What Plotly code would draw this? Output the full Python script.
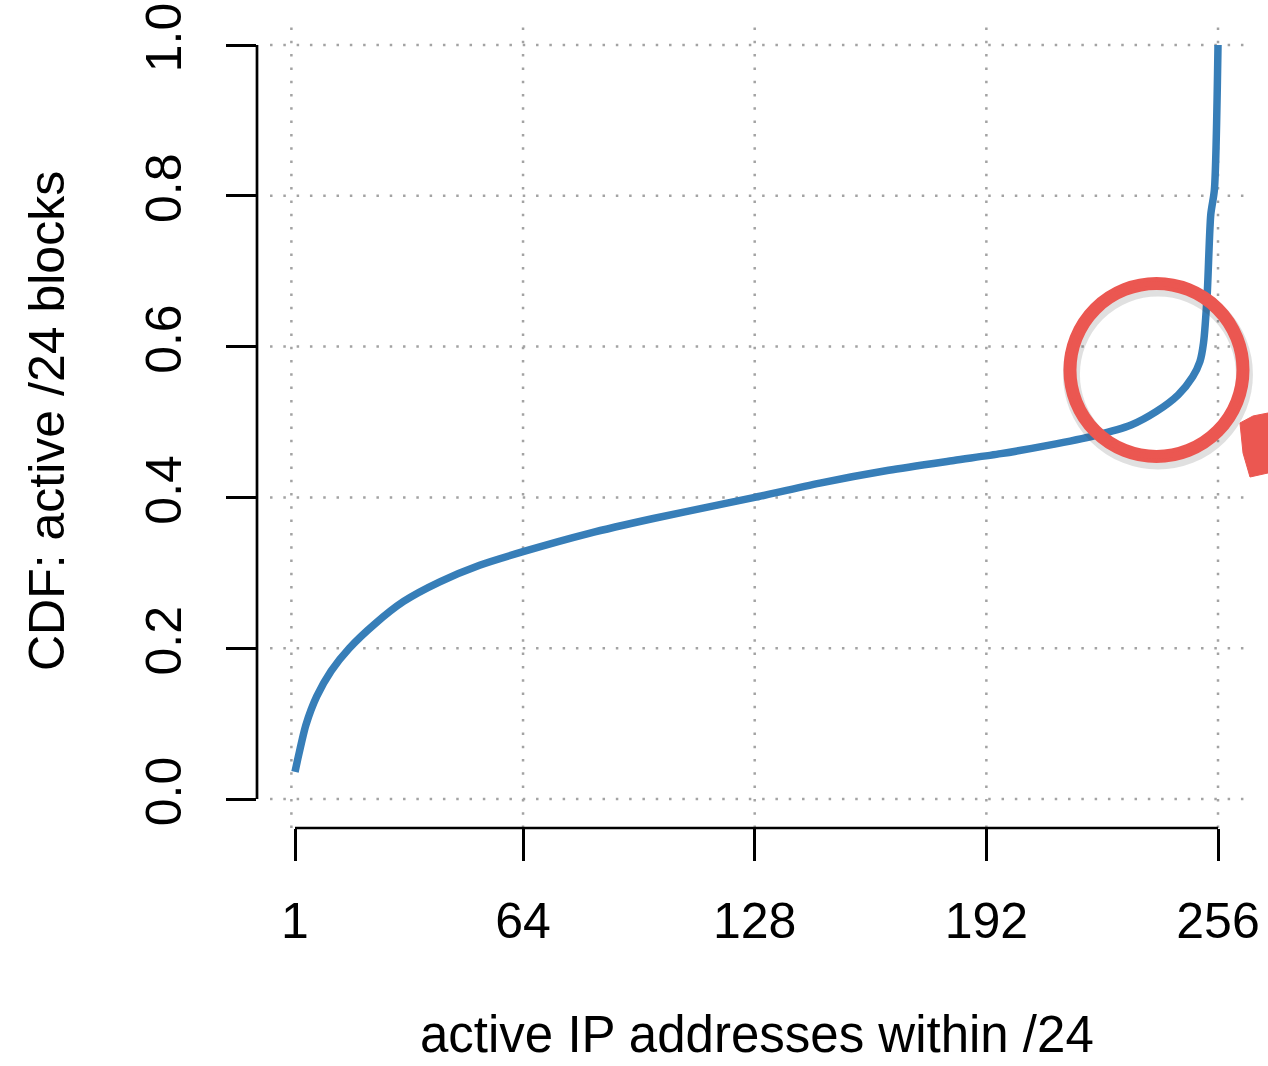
import plotly.graph_objects as go

# CDF of active addresses per /24 block
active_ips = [1, 2, 4, 7, 11, 16, 23, 31, 41, 52, 64, 82, 100, 118, 128, 146,
              165, 183, 196, 209, 222, 232, 239, 245, 249, 251, 252, 253, 254,
              255, 256]
cdf_blocks = [0.036, 0.058, 0.098, 0.136, 0.170, 0.200, 0.232, 0.262, 0.288,
              0.310, 0.328, 0.352, 0.372, 0.390, 0.400, 0.419, 0.436, 0.449,
              0.458, 0.469, 0.482, 0.496, 0.514, 0.536, 0.560, 0.580, 0.605,
              0.668, 0.775, 0.808, 1.0]

x_ticks = [1, 64, 128, 192, 256]
x_grid = [0, 64, 128, 192, 256]
y_ticks = [0.0, 0.2, 0.4, 0.6, 0.8, 1.0]
y_tick_text = ["0.0", "0.2", "0.4", "0.6", "0.8", "1.0"]

W, H = 1268, 1066
ML, MR, MT, MB = 257, 0, 25, 238
PW, PH = W - ML - MR, H - MT - MB

X_RANGE = [-9.50, 269.81]
Y_RANGE = [-0.03846, 1.02653]
GRID_X_SPAN = [-5.9, 264.8]

FONT = "Liberation Sans, Arial, Helvetica, sans-serif"
BLUE = "#377eb8"
RED = "#eb5751"
GRID = "#a3a3a3"
DOTS = "2.5px,10.8px"


def px(xp):
    return (xp - ML) / PW


def py(yp):
    return (H - MB - yp) / PH


fig = go.Figure()
fig.add_trace(go.Scatter(
    x=active_ips, y=cdf_blocks, mode="lines",
    line=dict(color=BLUE, width=7.5, shape="spline", smoothing=0.7),
    hoverinfo="skip", showlegend=False,
))

shapes = []
# dotted grid
for gx in x_grid:
    shapes.append(dict(type="line", xref="x", yref="paper", x0=gx, x1=gx,
                       y0=0, y1=1, layer="below",
                       line=dict(color=GRID, width=2.5, dash=DOTS)))
for gy in y_ticks:
    shapes.append(dict(type="line", xref="x", yref="y",
                       x0=GRID_X_SPAN[0], x1=GRID_X_SPAN[1], y0=gy, y1=gy,
                       layer="below",
                       line=dict(color=GRID, width=2.5, dash=DOTS)))
# axis lines spanning first to last tick
shapes.append(dict(type="line", xref="x", yref="paper",
                   x0=x_ticks[0], x1=x_ticks[-1], y0=0, y1=0,
                   line=dict(color="black", width=2.7)))
shapes.append(dict(type="line", xref="paper", yref="y",
                   x0=0, x1=0, y0=y_ticks[0], y1=y_ticks[-1],
                   line=dict(color="black", width=2.7)))

# hand-drawn highlight around the knee of the curve
cx, cy, rx, ry = 239.0, 0.569, 23.9, 0.1147
shapes.append(dict(type="circle", xref="x", yref="y",
                   x0=cx - rx + 0.4, x1=cx + rx + 0.4,
                   y0=cy - ry - 0.006, y1=cy + ry - 0.006,
                   line=dict(color="rgba(60,60,60,0.16)", width=17)))
shapes.append(dict(type="circle", xref="x", yref="y",
                   x0=cx - rx, x1=cx + rx, y0=cy - ry, y1=cy + ry,
                   line=dict(color=RED, width=13)))
for d, op in [(1.1, 0.65), (-1.1, 0.65)]:
    shapes.append(dict(type="circle", xref="x", yref="y",
                       x0=cx - rx - d, x1=cx + rx + d,
                       y0=cy - ry - d * 0.0048, y1=cy + ry + d * 0.0048,
                       line=dict(color=f"rgba(235,87,81,{op})", width=3)))
# start of the pointer stroke leaving the circle
blob = [(1240, 423), (1253, 416), (1268, 413), (1268, 473), (1250, 477),
        (1243, 453)]
path = "M " + " L ".join(f"{px(a):.4f},{py(b):.4f}" for a, b in blob) + " Z"
shapes.append(dict(type="path", xref="paper", yref="paper", path=path,
                   fillcolor=RED, line=dict(color=RED, width=1)))

annotations = [
    dict(text="active IP addresses within /24", xref="paper", yref="paper",
         x=px(757), y=py(H - 1), xanchor="center", yanchor="bottom",
         showarrow=False, font=dict(family=FONT, size=51, color="black")),
    dict(text="CDF: active /24 blocks", xref="paper", yref="paper",
         x=px(47), y=py(421), xanchor="center", yanchor="middle",
         textangle=-90, showarrow=False,
         font=dict(family=FONT, size=50, color="black")),
]

fig.update_layout(
    width=W, height=H,
    margin=dict(l=ML, r=MR, t=MT, b=MB, pad=0),
    paper_bgcolor="white", plot_bgcolor="white",
    shapes=shapes, annotations=annotations,
    xaxis=dict(range=X_RANGE, tickvals=x_ticks,
               ticktext=[str(v) for v in x_ticks],
               ticks="outside", ticklen=32, tickwidth=2.7, tickcolor="black",
               showgrid=False, zeroline=False, showline=False,
               ticklabelstandoff=17,
               tickfont=dict(family=FONT, size=50, color="black")),
    yaxis=dict(range=Y_RANGE, tickvals=y_ticks, ticktext=y_tick_text,
               ticks="outside", ticklen=30, tickwidth=2.7, tickcolor="black",
               showgrid=False, zeroline=False, showline=False,
               tickangle=-90, ticklabelstandoff=25,
               tickfont=dict(family=FONT, size=50, color="black")),
)

fig.write_html("out.html")
